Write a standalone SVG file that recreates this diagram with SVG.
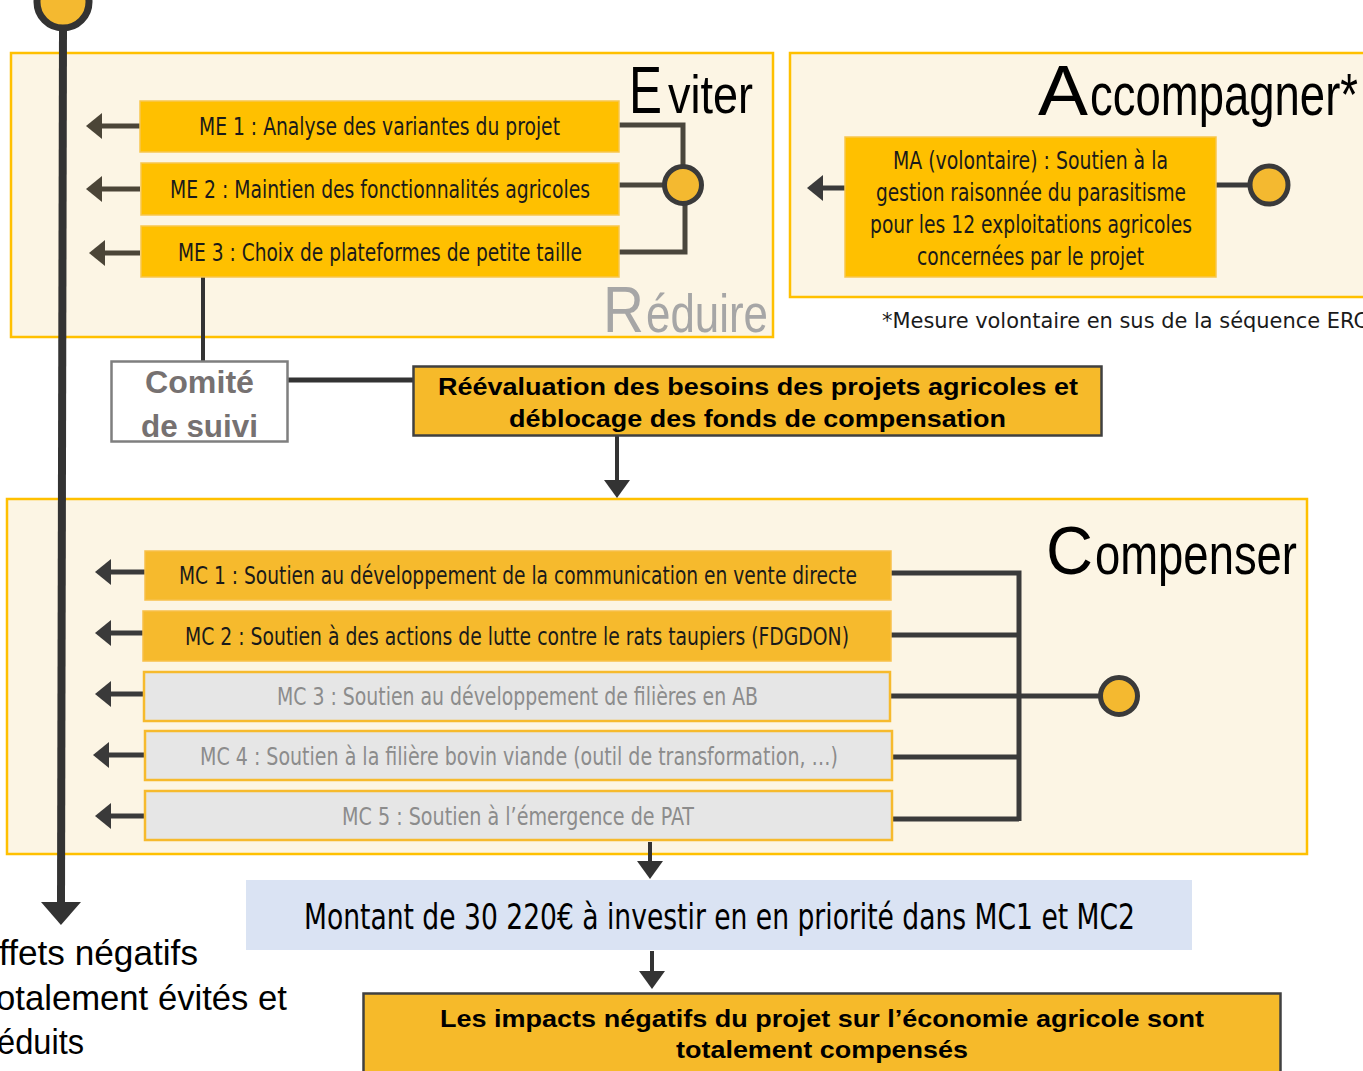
<svg xmlns="http://www.w3.org/2000/svg" width="1363" height="1071" viewBox="0 0 1363 1071">
<style>
.zone{fill:#FCF5E4;stroke:#FFC000;stroke-width:2.5}
.me{fill:#FFC000;stroke:#F7C64E;stroke-width:1.5}
.mc{fill:#F6BA2D;stroke:#F7C04A;stroke-width:1.5}
.mcg{fill:#E6E6E6;stroke:#F6BA2D;stroke-width:2.5}
.nar{font-family:'Liberation Sans Narrow','Arial Narrow','DejaVu Sans Condensed',sans-serif;font-stretch:condensed;font-size:24px;fill:#1A1A1A;text-anchor:middle}
.gry{fill:#8C8C8C}
.big{font-family:'Liberation Sans',Arial,sans-serif;fill:#000}
.bold{font-family:'Liberation Sans',Arial,sans-serif;font-weight:bold;font-size:24px;fill:#000;text-anchor:middle}
.con{fill:none;stroke:#3A3A3A;stroke-width:5}
.conb{fill:none;stroke:#4A463C;stroke-width:5}
.dot{fill:#F4B930;stroke:#3A3A3A;stroke-width:5}
</style>
<defs>
<marker id="al" markerUnits="userSpaceOnUse" markerWidth="18" markerHeight="26" refX="0" refY="13" orient="auto" overflow="visible">
<path d="M0,0 L16,13 L0,26 Z" fill="#3A3A3A"/>
</marker>
<marker id="alb" markerUnits="userSpaceOnUse" markerWidth="18" markerHeight="26" refX="0" refY="13" orient="auto" overflow="visible">
<path d="M0,0 L16,13 L0,26 Z" fill="#4B4537"/>
</marker>
<marker id="ad" markerUnits="userSpaceOnUse" markerWidth="20" markerHeight="28" refX="0" refY="13" orient="auto" overflow="visible">
<path d="M0,0 L18,13 L0,26 Z" fill="#333333"/>
</marker>
<marker id="abig" markerUnits="userSpaceOnUse" markerWidth="24" markerHeight="42" refX="0" refY="20" orient="auto" overflow="visible">
<path d="M0,0 L23,20 L0,40 Z" fill="#333333"/>
</marker>
</defs>

<rect width="1363" height="1071" fill="#FFFFFF"/>

<!-- zones -->
<g id="zone-eviter">
<rect class="zone" x="11" y="53" width="762" height="284"/>
<text class="big" x="629" y="113" font-size="66" textLength="33" lengthAdjust="spacingAndGlyphs">E</text>
<text class="big" x="668" y="113" font-size="54" textLength="85" lengthAdjust="spacingAndGlyphs">viter</text>
<text class="big" x="603" y="332" font-size="64" style="fill:#A6A6A6" textLength="41" lengthAdjust="spacingAndGlyphs">R</text>
<text class="big" x="646" y="332" font-size="54" style="fill:#A6A6A6" textLength="122" lengthAdjust="spacingAndGlyphs">éduire</text>
</g>
<g id="zone-accompagner">
<rect class="zone" x="790" y="53" width="590" height="244"/>
<text class="big" x="1038" y="115" font-size="70" textLength="50" lengthAdjust="spacingAndGlyphs">A</text>
<text class="big" x="1090" y="115" font-size="60" textLength="268" lengthAdjust="spacingAndGlyphs">ccompagner*</text>
</g>
<g id="footnote">
<text class="nar" x="882" y="328" style="text-anchor:start;font-size:22px" textLength="486" lengthAdjust="spacingAndGlyphs">*Mesure volontaire en sus de la séquence ERC</text>
</g>
<g id="zone-compenser">
<rect class="zone" x="7" y="499" width="1300" height="355"/>
<text class="big" x="1046" y="574" font-size="68" textLength="47" lengthAdjust="spacingAndGlyphs">C</text>
<text class="big" x="1095" y="574" font-size="58" textLength="202" lengthAdjust="spacingAndGlyphs">ompenser</text>
</g>

<!-- connectors -->
<g id="connectors">
<circle class="dot" cx="63" cy="2" r="26" style="stroke:#333;stroke-width:7"/>
<line x1="63" y1="28" x2="61" y2="902" stroke="#333" stroke-width="8" marker-end="url(#abig)"/>
<line x1="140" y1="126" x2="102" y2="126" stroke="#4B4537" stroke-width="5" marker-end="url(#alb)"/>
<line x1="140" y1="189" x2="102" y2="189" stroke="#4B4537" stroke-width="5" marker-end="url(#alb)"/>
<line x1="140" y1="253" x2="105" y2="253" stroke="#4B4537" stroke-width="5" marker-end="url(#alb)"/>
<path class="conb" d="M619,125 H683 V167"/>
<path class="conb" d="M619,185 H665"/>
<path class="conb" d="M619,252 H685 V203"/>
<circle class="dot" cx="683" cy="185" r="18.5"/>
<line x1="845" y1="188" x2="823" y2="188" stroke="#3A3A3A" stroke-width="5" marker-end="url(#al)"/>
<path class="con" d="M1216,185 H1250"/>
<circle class="dot" cx="1269" cy="185" r="19"/>
<line x1="203" y1="277" x2="203" y2="361" stroke="#333" stroke-width="4"/>
<line x1="288" y1="380" x2="413" y2="380" stroke="#333" stroke-width="5"/>
<line x1="617" y1="436" x2="617" y2="480" stroke="#333" stroke-width="4" marker-end="url(#ad)"/>
<line x1="145" y1="572" x2="111" y2="572" stroke="#3A3A3A" stroke-width="5" marker-end="url(#al)"/>
<line x1="143" y1="633" x2="111" y2="633" stroke="#3A3A3A" stroke-width="5" marker-end="url(#al)"/>
<line x1="144" y1="694" x2="111" y2="694" stroke="#3A3A3A" stroke-width="5" marker-end="url(#al)"/>
<line x1="145" y1="755" x2="109" y2="755" stroke="#3A3A3A" stroke-width="5" marker-end="url(#al)"/>
<line x1="145" y1="816" x2="111" y2="816" stroke="#3A3A3A" stroke-width="5" marker-end="url(#al)"/>
<path class="con" d="M891,573 H1019 V821"/>
<path class="con" d="M891,635 H1019"/>
<path class="con" d="M890,696 H1100"/>
<path class="con" d="M892,757 H1019"/>
<path class="con" d="M892,819 H1019"/>
<circle class="dot" cx="1119" cy="696" r="18.5"/>
<line x1="650" y1="842" x2="650" y2="861" stroke="#333" stroke-width="4" marker-end="url(#ad)"/>
<line x1="652" y1="951" x2="652" y2="971" stroke="#333" stroke-width="4" marker-end="url(#ad)"/>
</g>

<!-- nodes -->
<g id="me1">
<rect class="me" x="140" y="101" width="479" height="51"/>
<text class="nar" x="379.5" y="135" textLength="361" lengthAdjust="spacingAndGlyphs">ME 1 : Analyse des variantes du projet</text>
</g>
<g id="me2">
<rect class="me" x="141" y="163" width="478" height="52"/>
<text class="nar" x="380" y="198" textLength="420" lengthAdjust="spacingAndGlyphs">ME 2 : Maintien des fonctionnalités agricoles</text>
</g>
<g id="me3">
<rect class="me" x="141" y="226" width="478" height="51"/>
<text class="nar" x="380" y="261" textLength="404" lengthAdjust="spacingAndGlyphs">ME 3 : Choix de plateformes de petite taille</text>
</g>
<g id="ma">
<rect class="me" x="845" y="137" width="371" height="140"/>
<text class="nar" x="1030.5" y="169" textLength="275" lengthAdjust="spacingAndGlyphs">MA (volontaire) : Soutien à la</text>
<text class="nar" x="1031" y="201" textLength="310" lengthAdjust="spacingAndGlyphs">gestion raisonnée du parasitisme</text>
<text class="nar" x="1031" y="233" textLength="322" lengthAdjust="spacingAndGlyphs">pour les 12 exploitations agricoles</text>
<text class="nar" x="1030.5" y="265" textLength="227" lengthAdjust="spacingAndGlyphs">concernées par le projet</text>
</g>
<g id="comite">
<rect x="111.5" y="361.5" width="176" height="80" fill="#FFFFFF" stroke="#7F7F7F" stroke-width="2.5"/>
<text x="199.5" y="393" text-anchor="middle" font-family="'Liberation Sans',Arial,sans-serif" font-weight="bold" font-size="31" fill="#767171" textLength="109" lengthAdjust="spacingAndGlyphs">Comité</text>
<text x="199.5" y="437" text-anchor="middle" font-family="'Liberation Sans',Arial,sans-serif" font-weight="bold" font-size="31" fill="#767171" textLength="117" lengthAdjust="spacingAndGlyphs">de suivi</text>
</g>
<g id="reevaluation">
<rect x="413.5" y="366.5" width="688" height="69" fill="#F6BA2A" stroke="#404040" stroke-width="2.5"/>
<text class="bold" x="758" y="395" textLength="640" lengthAdjust="spacingAndGlyphs">Réévaluation des besoins des projets agricoles et</text>
<text class="bold" x="757.5" y="427" textLength="497" lengthAdjust="spacingAndGlyphs">déblocage des fonds de compensation</text>
</g>
<g id="mc1">
<rect class="mc" x="145" y="551" width="746" height="49"/>
<text class="nar" x="518" y="584" textLength="678" lengthAdjust="spacingAndGlyphs">MC 1 : Soutien au développement de la communication en vente directe</text>
</g>
<g id="mc2">
<rect class="mc" x="143" y="611" width="748" height="50"/>
<text class="nar" x="517" y="645" textLength="664" lengthAdjust="spacingAndGlyphs">MC 2 : Soutien à des actions de lutte contre le rats taupiers (FDGDON)</text>
</g>
<g id="mc3">
<rect class="mcg" x="144" y="672" width="746" height="49"/>
<text class="nar gry" x="517.5" y="705" textLength="481" lengthAdjust="spacingAndGlyphs">MC 3 : Soutien au développement de filières en AB</text>
</g>
<g id="mc4">
<rect class="mcg" x="145" y="731" width="747" height="49"/>
<text class="nar gry" x="519" y="765" textLength="638" lengthAdjust="spacingAndGlyphs">MC 4 : Soutien à la filière bovin viande (outil de transformation, …)</text>
</g>
<g id="mc5">
<rect class="mcg" x="145" y="791" width="747" height="49"/>
<text class="nar gry" x="518" y="825" textLength="352" lengthAdjust="spacingAndGlyphs">MC 5 : Soutien à l’émergence de PAT</text>
</g>
<g id="montant">
<rect x="246" y="880" width="946" height="70" fill="#DAE3F3"/>
<text class="nar" x="719.5" y="929" style="font-size:36px;fill:#000" textLength="831" lengthAdjust="spacingAndGlyphs">Montant de 30 220€ à investir en en priorité dans MC1 et MC2</text>
</g>
<g id="final">
<rect x="363.5" y="993.5" width="917" height="90" fill="#F6BA2A" stroke="#404040" stroke-width="2.5"/>
<text class="bold" x="822" y="1027" textLength="764" lengthAdjust="spacingAndGlyphs">Les impacts négatifs du projet sur l’économie agricole sont</text>
<text class="bold" x="822" y="1058" textLength="292" lengthAdjust="spacingAndGlyphs">totalement compensés</text>
</g>
<g id="effets">
<text class="big" x="-1" y="965" font-size="35" textLength="199" lengthAdjust="spacingAndGlyphs">ffets négatifs</text>
<text class="big" x="-4" y="1010" font-size="35" textLength="291" lengthAdjust="spacingAndGlyphs">otalement évités et</text>
<text class="big" x="-3" y="1054" font-size="35" textLength="87" lengthAdjust="spacingAndGlyphs">éduits</text>
</g>
</svg>
